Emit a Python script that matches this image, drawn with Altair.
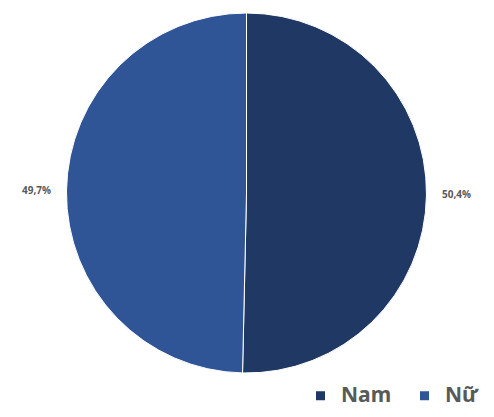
import altair as alt
import pandas as pd

categories = ["Nam", "Nữ"]
values = [50.4, 49.7]
labels = ["50,4%", "49,7%"]
colors = ["#203864", "#2f5597"]

df = pd.DataFrame({"cat": categories, "val": values, "label": labels, "ord": [0, 1]})

cx, cy = 238.5, 185

base = alt.Chart(df).encode(
    theta=alt.Theta("val:Q", stack=True),
    order=alt.Order("ord:Q"),
)

pie = base.mark_arc(outerRadius=180, stroke="white", strokeWidth=1).encode(
    x=alt.value(cx), y=alt.value(cy),
    color=alt.Color(
        "cat:N",
        scale=alt.Scale(domain=categories, range=colors),
        legend=alt.Legend(
            title=None,
            orient="none",
            legendX=302,
            legendY=377,
            padding=0,
            direction="horizontal",
            symbolType="square",
            symbolSize=81,
            symbolStrokeWidth=0,
            labelFontSize=21,
            labelFontWeight="bold",
            labelColor="#595959",
            labelFont="Noto Sans",
            labelOffset=10,
            columnPadding=22,
        ),
    ),
)

text = base.mark_text(radius=210, font="Open Sans", fontSize=10, fontWeight="bold", color="#595959").encode(
    x=alt.value(cx), y=alt.value(cy),
    text="label:N",
)

chart = alt.layer(pie, text).properties(
    width=478, height=401,
    autosize=alt.AutoSizeParams(type="none"),
    padding=0,
).configure_view(stroke=None)

chart.save("out.html", embed_options={"renderer": "svg", "actions": False})
